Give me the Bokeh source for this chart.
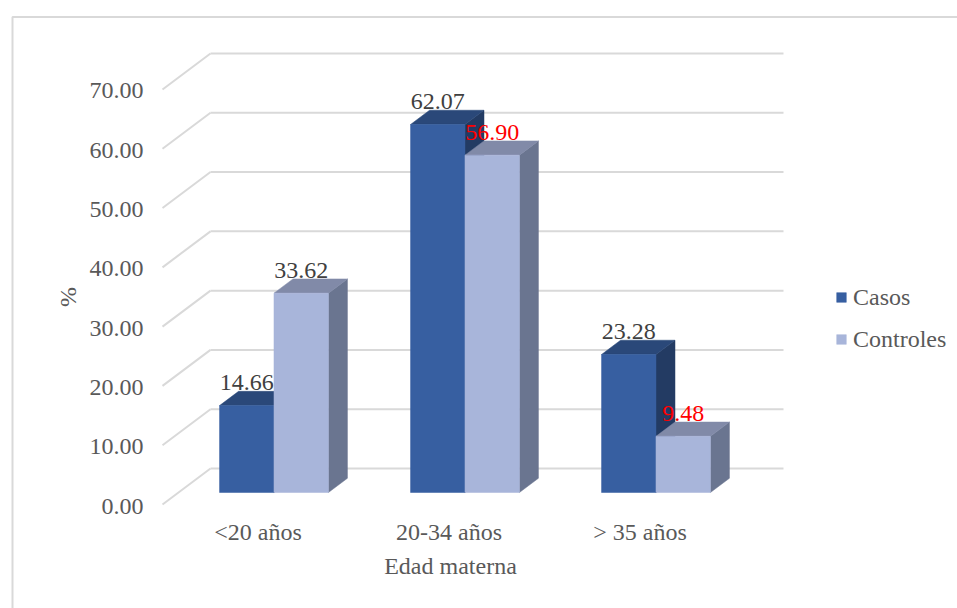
import numpy as np
from bokeh.plotting import figure
from bokeh.models import Range1d, ColumnDataSource, Legend, LegendItem
from bokeh.core.properties import value
from bokeh.embed import file_html
from bokeh.resources import INLINE

# ---- data -------------------------------------------------------------
categories = ["<20 años", "20-34 años", "> 35 años"]
series_names = ["Casos", "Controles"]
casos = [14.66, 62.07, 23.28]
controles = [33.62, 56.90, 9.48]
y_ticks = [0, 10, 20, 30, 40, 50, 60, 70]
y_tick_labels = ["0.00", "10.00", "20.00", "30.00", "40.00", "50.00", "60.00", "70.00"]
x_title = "Edad materna"
y_title = "%"

# ---- layout / styling -------------------------------------------------
W, H = 957, 608
X0_PX, CAT_PX = 162, 191          # front-plane x of first category edge, px per category
Y0_PX, UNIT_PX = 504, 5.929       # front-plane y of value 0, px per value unit
DEPTH_DX = 48 / CAT_PX            # wall depth projected on x (data units)
DEPTH_DY = 36 / UNIT_PX           # wall depth projected on y (data units)
BAR_W = 0.285
BAR_GAP = 0.215
BAR_D0, BAR_D1 = 0.333, 0.729     # bar depth span inside the wall depth

FONT = "Liberation Serif"
TEXT_GREY = "#595959"
GRID = "#d9d9d9"
FACE = {"Casos": ("#375fa1", "#2a4879", "#233b63"),
        "Controles": ("#a8b5da", "#818aa8", "#6a7590")}
LABEL_COLORS = {"Casos": ["#404040", "#404040", "#404040"],
                "Controles": ["#404040", "#ff0000", "#ff0000"]}


def px_x(px):
    return (px - X0_PX) / CAT_PX


def px_y(py):
    return (Y0_PX - py) / UNIT_PX


def proj(x, y, d):
    """Oblique projection of (x, value, depth) onto the plot plane."""
    return x + d * DEPTH_DX, y + d * DEPTH_DY


p = figure(width=W, height=H, output_backend="svg", toolbar_location=None,
           x_range=Range1d(px_x(0), px_x(W)), y_range=Range1d(px_y(H), px_y(0)),
           x_axis_location=None, y_axis_location=None, min_border=0)
p.outline_line_color = None
p.xgrid.visible = False
p.ygrid.visible = False
p.background_fill_color = "white"
p.border_fill_color = "white"

# chart border (top and left edges fall inside the page)
p.line([px_x(12), px_x(12), px_x(W + 10)], [px_y(H + 10), px_y(16.5), px_y(16.5)],
       line_color=GRID, line_width=2)

# back wall and side wall gridlines
n_cat = len(categories)
gx, gy = [], []
for t in y_ticks:
    bx0, by0 = proj(0, t, 1)
    bx1, by1 = proj(n_cat, t, 1)
    fx, fy = proj(0, t, 0)
    gx += [[bx0, bx1], [fx, bx0]]
    gy += [[by0, by1], [fy, by0]]
p.multi_line(gx, gy, line_color=GRID, line_width=2)

# bars: right side, top and front faces of each series
legend_items = []
for j, (name, vals) in enumerate(zip(series_names, [casos, controles])):
    front_c, top_c, side_c = FACE[name]
    side_xs, side_ys, top_xs, top_ys, fr_xs, fr_ys = [], [], [], [], [], []
    lab_x, lab_y = [], []
    for i, v in enumerate(vals):
        xl = i + BAR_GAP + j * BAR_W
        xr = xl + BAR_W
        c = [proj(xr, 0, BAR_D0), proj(xr, v, BAR_D0), proj(xr, v, BAR_D1), proj(xr, 0, BAR_D1)]
        side_xs.append([q[0] for q in c]); side_ys.append([q[1] for q in c])
        c = [proj(xl, v, BAR_D0), proj(xr, v, BAR_D0), proj(xr, v, BAR_D1), proj(xl, v, BAR_D1)]
        top_xs.append([q[0] for q in c]); top_ys.append([q[1] for q in c])
        c = [proj(xl, 0, BAR_D0), proj(xr, 0, BAR_D0), proj(xr, v, BAR_D0), proj(xl, v, BAR_D0)]
        fr_xs.append([q[0] for q in c]); fr_ys.append([q[1] for q in c])
        lx, _ = proj((xl + xr) / 2, v, BAR_D0)
        _, ly = proj(xl, v, BAR_D1)
        lab_x.append(lx); lab_y.append(ly + 8.5 / UNIT_PX)
    p.patches(side_xs, side_ys, fill_color=side_c, line_color=side_c, line_width=0.5)
    p.patches(top_xs, top_ys, fill_color=top_c, line_color=top_c, line_width=0.5)
    r = p.patches(fr_xs, fr_ys, fill_color=front_c, line_color=front_c, line_width=0.5)
    legend_items.append(LegendItem(label=name, renderers=[r]))
    src = ColumnDataSource(dict(x=lab_x, y=lab_y, t=[f"{v:.2f}" for v in vals],
                                c=LABEL_COLORS[name]))
    p.text("x", "y", "t", source=src, text_color="c", text_align="center",
           text_baseline="middle", text_font=value(FONT), text_font_size="24px")

# value axis labels on the front plane
tx = [proj(0, t, 0)[0] - 19 / CAT_PX for t in y_ticks]
ty = [t - 1.5 / UNIT_PX for t in y_ticks]
p.text(tx, ty, text=y_tick_labels, text_align="right", text_baseline="middle",
       text_color=TEXT_GREY, text_font=value(FONT), text_font_size="24px")

# category labels
p.text([i + 0.5 for i in range(n_cat)], [px_y(531.5)] * n_cat, text=categories,
       text_align="center", text_baseline="middle", text_color=TEXT_GREY,
       text_font=value(FONT), text_font_size="24px")

# axis titles
p.text([px_x(450)], [px_y(565.5)], text=[x_title], text_align="center",
       text_baseline="middle", text_color=TEXT_GREY,
       text_font=value(FONT), text_font_size="24px")
p.text([px_x(67.5)], [px_y(296.5)], text=[y_title], angle=np.pi / 2,
       text_align="center", text_baseline="middle", text_color=TEXT_GREY,
       text_font=value(FONT), text_font_size="24px")

legend = Legend(items=legend_items, location=(835, H - 353), orientation="vertical",
                glyph_width=12, glyph_height=12, label_standoff=6, spacing=14,
                padding=0, margin=0, label_text_font=FONT, label_text_font_size="24px",
                label_text_color=TEXT_GREY, background_fill_alpha=0,
                border_line_color=None, label_height=28)
p.add_layout(legend)

open("out.html", "w").write(file_html(p, INLINE))
